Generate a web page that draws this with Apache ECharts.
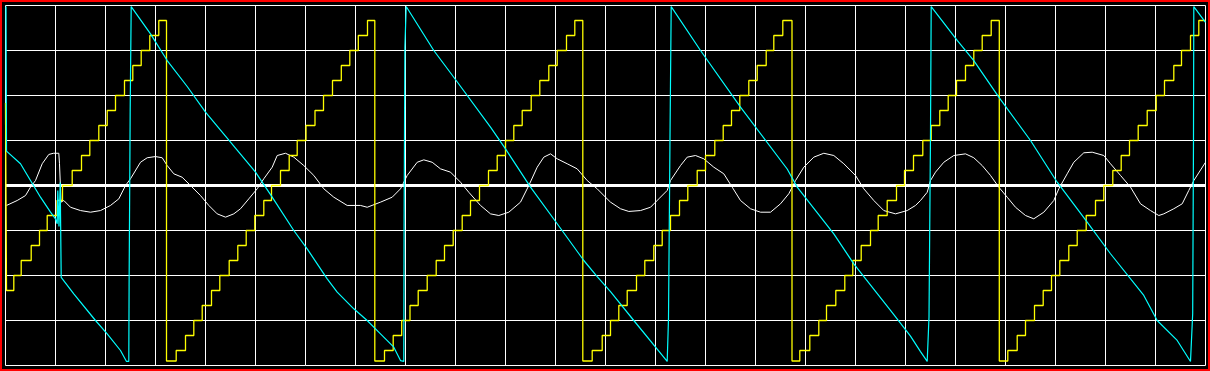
<!DOCTYPE html>
<html>
<head>
<meta charset="utf-8">
<script src="https://cdn.jsdelivr.net/npm/echarts@6/dist/echarts.min.js"></script>
<style>
html,body{margin:0;padding:0;background:#000;}
#chart{width:1210px;height:371px;}
</style>
</head>
<body>
<div id="chart"></div>
<script>
// x: sample index (50 per division), y: DAC steps (3 per division)
var xTicks = {min: 0, max: 1200, interval: 50};
var yTicks = {min: -12, max: 12, interval: 3};

var baseline = [[0, 0], [1200, 0]];

var yellowStair = [
[0,5.5],[1,-7],[8.3,-6],[15.7,-5],[25.7,-4],[34,-3],[41.7,-2],[51.5,-1],[57,0],[66.7,1],[76,2],[84.3,3],[93.3,4],[101.7,5],[110,6],[119,7],[127.3,8],[135.7,9],[144.3,10],[153.3,11],
[161,-11.7],[170.7,-11],[180,-10],[188.3,-9],[196.7,-8],[206,-7],[214.3,-6],[223.7,-5],[232.3,-4],[240.7,-3],[249.3,-2],[258.3,-1],[266,0],[275,1],[283.7,2],[291.7,3],[300.5,4],[309.5,5],[318,6],[327,7],[335.8,8],[344.3,9],[352.8,10],[362,11],
[369.3,-11.7],[379,-11],[387.7,-10],[396.2,-9],[404.5,-8],[412.7,-7],[421.7,-6],[430.7,-5],[439,-4],[447.7,-3],[456.7,-2],[465,-1],[474,0],[483,1],[491.7,2],[500,3],[508.3,4],[516.7,5],[525.7,6],[534.3,7],[543.3,8],[551.7,9],[561,10],[569.3,11],
[577.3,-11.7],[586.7,-11],[596.7,-10],[605,-9],[613.3,-8],[621.7,-7],[631,-6],[639.3,-5],[648.3,-4],[656.7,-3],[665,-2],[674,-1],[682.3,0],[691.7,1],[700,2],[709.3,3],[717.7,4],[726,5],[734.3,6],[743.3,7],[751.7,8],[760.7,9],[768.3,10],[777.3,11],
[786.5,-11.7],[794.3,-11],[804.3,-10],[813.3,-9],[821,-8],[830.3,-7],[839.3,-6],[847.3,-5],[855.7,-4],[865,-3],[872.7,-2],[881.7,-1],[891,0],[899,1],[908,2],[917.3,3],[925.7,4],[934.3,5],[942.7,6],[951,7],[960,8],[968.3,9],[976.7,10],[985.7,11],
[993.8,-11.7],[1002.3,-11],[1011.7,-10],[1020,-9],[1029,-8],[1037.7,-7],[1046,-6],[1054.3,-5],[1063.3,-4],[1071.7,-3],[1080.7,-2],[1090,-1],[1098.3,0],[1107.3,1],[1115.7,2],[1124,3],[1132.7,4],[1141.7,5],[1150.7,6],[1159,7],[1168.3,8],[1176,9],[1185,10],[1193.3,11],[1200,11]
];

var cyanRamp = [
[0.5,11.93],[1,2.29],[15,1.45],[25,0.33],[35,-0.78],[45,-1.78],[50,-2.22],[51.7,-2.55],[52.3,-0.33],[53.5,-2.73],[54.7,0.2],[55.7,-6.13],[56.7,-6.22],[68.3,-7.22],[90,-9],[101.7,-9.89],[115,-11],[121,-11.73],[123.3,-11.73],[123.6,-6.7],[124.7,5.13],[125.7,11.93],
[145,10.11],[161.7,8.33],[181.7,6.6],[200,4.89],[225,2.89],[250,0.89],[266.7,-0.78],[288.3,-3],[301.7,-4.22],[321.7,-6.22],[331.7,-7.11],[348.3,-8.22],[361.7,-9],[375,-9.89],[388.3,-10.78],[395,-11.67],[398.3,-11.73],[398.6,-2.55],[399.4,9.22],[400.7,11.93],
[428.3,9],[450.7,7],[485,3.89],[500,2.44],[525,-0.11],[551.7,-2.55],[578.3,-5],[591.7,-6.07],[605,-7.07],[628.3,-9],[661.7,-11.73],[662.7,-11.73],[663,-8.89],[664.5,3.22],[665.7,11.93],
[695,9],[735,5.22],[781.7,1.1],[791.7,-0.11],[828.3,-3.22],[848.3,-5.22],[885,-8.33],[905,-10.04],[915,-11.07],[921.7,-11.73],[923.3,-11.73],[923.5,-8.78],[925,3.47],[925.7,11.93],
[951.7,9.67],[968.3,8.33],[993.3,5.89],[1025,3],[1051.7,0.22],[1081.7,-2.44],[1105,-4.55],[1138.3,-7.33],[1151.7,-9],[1171.7,-10.33],[1185,-11.73],[1187,-11.73],[1187.2,-8.53],[1188,3.2],[1188.3,11.93],[1200,10.87]
];

var whiteWave = [
[1,-1.33],[11.7,-1],[20,-0.67],[25,-0.11],[30,0.33],[36.7,1.45],[43.3,2.07],[48,2.15],[53.3,2.15],[54,1.45],[55,-0.22],[55.5,-1.11],[58.3,-1],
[65,-1.45],[75,-1.67],[85,-1.78],[95,-1.67],[105,-1.33],[113.3,-0.89],[120,0],[125,0.45],[135,1.55],[141.7,1.85],[150,1.93],[156.7,1.85],[161.7,1.33],[168.3,0.78],[176.7,0.55],[185,0],
[195,-0.67],[203.3,-1.33],[211.7,-1.89],[220,-2.11],[228.3,-1.89],[235,-1.55],[243.3,-0.89],[251.7,-0.22],[258.3,0.45],[266.7,1.22],[271.7,2],[280,2.15],[288.3,1.89],[298.3,1.33],[308.3,0.67],[318.3,-0.22],[328.3,-0.78],
[341.7,-1.33],[355,-1.33],[361.7,-1.45],[375,-1.11],[386.7,-0.78],[395,-0.22],[401.7,0.67],[411.7,1.55],[418.3,1.71],[426.7,1.55],[435,1.11],[445,0.89],[455,0.22],[463.3,-0.45],[475,-1.33],[485,-1.89],[493.3,-2],
[503.3,-1.78],[515,-1.11],[523.3,0],[531.7,1.22],[538.3,1.89],[545,2.11],[551.7,1.78],[561.7,1.45],[571.7,1.11],[581.7,0.33],[591.7,-0.22],[600,-0.78],[605,-1.11],[615,-1.55],[623.3,-1.73],[635,-1.67],[645,-1.45],
[653.3,-0.89],[661.7,-0.33],[665,0.33],[675,1.33],[681.7,1.89],[690,2],[698.3,1.78],[708.3,1.22],[718.3,0.78],[726.7,-0.11],[735,-1],[745,-1.55],[755,-1.78],[765,-1.78],[775,-1.22],[783.3,-0.55],[790,0.33],
[798.3,1.22],[808.3,1.89],[818.3,2.15],[828.3,2],[838.3,1.45],[850,0.67],[858.3,-0.22],[868.3,-1],[878.3,-1.67],[890,-1.89],[901.7,-1.67],[910,-1.33],[915,-1],[921.7,-0.45],[925,0.33],[930,0.89],[938.3,1.55],
[948.3,2],[960,2.11],[968.3,1.85],[976.7,1.33],[985,0.67],[993.3,-0.11],[1001.7,-0.78],[1010,-1.45],[1020,-2],[1028.3,-2.22],[1038.3,-1.78],[1048.3,-1],[1053.3,-0.22],[1061.7,0.78],[1068.3,1.55],[1078.3,2.18],
[1086.7,2.22],[1098.3,2],[1105,1.45],[1115,0.67],[1125,-0.11],[1135,-1.22],[1145,-1.67],[1153.3,-2],[1158.3,-1.89],[1168.3,-1.55],[1176.7,-1.22],[1183.3,-0.33],[1188.3,0.33],[1200,1.55]
];

var chart = echarts.init(document.getElementById('chart'), null, {renderer: 'canvas'});
var gridLine = {show: true, lineStyle: {color: '#ffffff', width: 1, type: 'solid'}};
chart.setOption({
  backgroundColor: '#000000',
  animation: false,
  grid: {left: 5.5, top: 5.5, width: 1200, height: 360, containLabel: false},
  xAxis: {
    type: 'value', min: xTicks.min, max: xTicks.max, interval: xTicks.interval,
    axisLine: {show: false}, axisTick: {show: false}, axisLabel: {show: false},
    splitLine: gridLine
  },
  yAxis: {
    type: 'value', min: yTicks.min, max: yTicks.max, interval: yTicks.interval,
    axisLine: {show: false}, axisTick: {show: false}, axisLabel: {show: false},
    splitLine: gridLine
  },
  graphic: [{
    type: 'rect', silent: true, z: 100,
    shape: {x: 1, y: 1, width: 1208, height: 369},
    style: {fill: 'none', stroke: '#ff0000', lineWidth: 2}
  }],
  series: [
    {type: 'line', name: 'baseline', data: baseline, symbol: 'none', z: 1,
     lineStyle: {color: '#ffffff', width: 3}},
    {type: 'line', name: 'white', data: whiteWave, symbol: 'none', z: 2,
     lineStyle: {color: '#ffffff', width: 1}},
    {type: 'line', name: 'yellow', data: yellowStair, step: 'end', symbol: 'none', z: 3,
     lineStyle: {color: '#ffff00', width: 1.3}},
    {type: 'line', name: 'cyan', data: cyanRamp, symbol: 'none', z: 4,
     lineStyle: {color: '#00ffff', width: 1.2}}
  ]
});
</script>
</body>
</html>
